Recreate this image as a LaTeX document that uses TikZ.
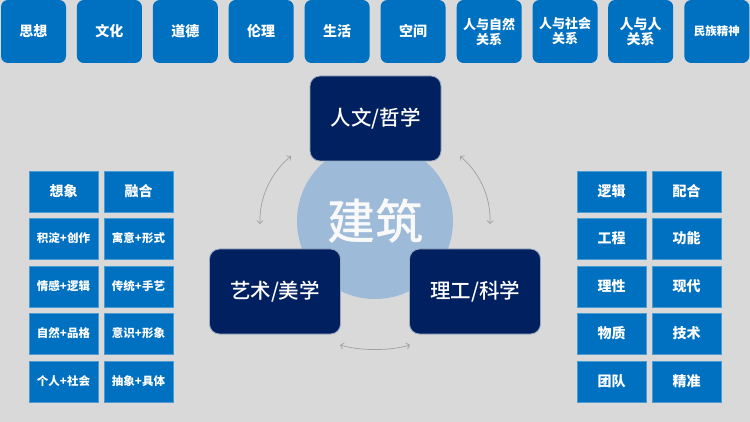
\documentclass[tikz,border=0pt]{standalone}
\usepackage{fontspec}
\setmainfont{Noto Sans CJK SC}
\newfontfamily\medcjk{Noto Sans CJK SC Medium}
\usetikzlibrary{arrows.meta}
\definecolor{bgc}{HTML}{D9D9D9}
\definecolor{bluec}{HTML}{0070C0}
\definecolor{navyc}{HTML}{002060}
\definecolor{circc}{HTML}{9DBBD9}
\definecolor{arrc}{HTML}{A0A0A0}
\tikzset{
  topbox/.style={fill=bluec, rounded corners=7pt, minimum width=65pt, minimum height=63pt, text=white, font=\fontsize{14}{16}\selectfont\bfseries, align=center, inner sep=0pt},
  gridbox/.style={fill=bluec, draw=bluec!70!white, line width=0.6pt, minimum width=69pt, minimum height=41pt, text=white, font=\fontsize{11.5}{13}\selectfont\bfseries, inner sep=0pt},
  gridhead/.style={gridbox, font=\fontsize{14}{16}\selectfont\bfseries},
  navybox/.style={fill=navyc, draw=white!60!navyc, line width=0.8pt, rounded corners=10pt, minimum width=131pt, minimum height=85pt, text=white, font=\medcjk\fontsize{20.5}{22}\selectfont, inner sep=0pt},
  arc/.style={draw=arrc, line width=0.7pt, {Straight Barb[length=3pt,width=6pt]}-{Straight Barb[length=3pt,width=6pt]}}
}
\begin{document}
\begin{tikzpicture}[x=1pt,y=-1pt]
\fill[bgc] (0,0) rectangle (750,422);
\useasboundingbox (0,0) rectangle (750,422);
% top row
\node[topbox] (t1) at (33.5,31.5) {思想};
\node[topbox] (t2) at (109.4,31.5) {文化};
\node[topbox] (t3) at (185.3,31.5) {道德};
\node[topbox] (t4) at (261.2,31.5) {伦理};
\node[topbox] (t5) at (337.1,31.5) {生活};
\node[topbox] (t6) at (413,31.5) {空间};
\node[topbox, font=\fontsize{13}{15}\selectfont\bfseries] (t7) at (489.2,31.5) {人与自然\\关系};
\node[topbox, font=\fontsize{13}{15}\selectfont\bfseries] (t8) at (565,31.5) {人与社会\\关系};
\node[topbox, font=\fontsize{14}{15.5}\selectfont\bfseries] (t9) at (640.7,31.5) {人与人\\关系};
\node[topbox, font=\fontsize{11.5}{13}\selectfont\bfseries] (t10) at (716.8,31.5) {民族精神};
% center circle
\node[circle, fill=circc, minimum size=156pt, inner sep=0pt, text=white!95!gray, font=\medcjk\fontsize{48}{50}\selectfont] (core) at (375,221) {建筑};
% navy boxes
\node[navybox] (hum) at (375.5,118.5) {人文/哲学};
\node[navybox] (art) at (275,291.5) {艺术/美学};
\node[navybox] (sci) at (475,291.5) {理工/科学};
% arcs
\coordinate (a1) at (291,156);
\coordinate (a2) at (260,224);
\coordinate (b1) at (460,156);
\coordinate (b2) at (490,224);
\coordinate (c1) at (340,345);
\coordinate (c2) at (410,345);
\draw[arc] (a1) .. controls (272,172) and (259,196) .. (a2);
\draw[arc] (b1) .. controls (479,172) and (491,196) .. (b2);
\draw[arc] (c1) .. controls (360,351) and (390,351) .. (c2);
% left grid
\node[gridhead] (l11) at (63.5,191.5) {想象};
\node[gridhead] (l12) at (138.5,191.5) {融合};
\node[gridbox] (l21) at (63.5,238.5) {积淀+创作};
\node[gridbox] (l22) at (138.5,238.5) {寓意+形式};
\node[gridbox] (l31) at (63.5,286.5) {情感+逻辑};
\node[gridbox] (l32) at (138.5,286.5) {传统+手艺};
\node[gridbox] (l41) at (63.5,333.5) {自然+品格};
\node[gridbox] (l42) at (138.5,333.5) {意识+形象};
\node[gridbox] (l51) at (63.5,381.5) {个人+社会};
\node[gridbox] (l52) at (138.5,381.5) {抽象+具体};
% right grid
\node[gridhead] (r11) at (611.5,191.5) {逻辑};
\node[gridhead] (r12) at (686.5,191.5) {配合};
\node[gridhead] (r21) at (611.5,238.5) {工程};
\node[gridhead] (r22) at (686.5,238.5) {功能};
\node[gridhead] (r31) at (611.5,286.5) {理性};
\node[gridhead] (r32) at (686.5,286.5) {现代};
\node[gridhead] (r41) at (611.5,333.5) {物质};
\node[gridhead] (r42) at (686.5,333.5) {技术};
\node[gridhead] (r51) at (611.5,381.5) {团队};
\node[gridhead] (r52) at (686.5,381.5) {精准};
\end{tikzpicture}
\end{document}
